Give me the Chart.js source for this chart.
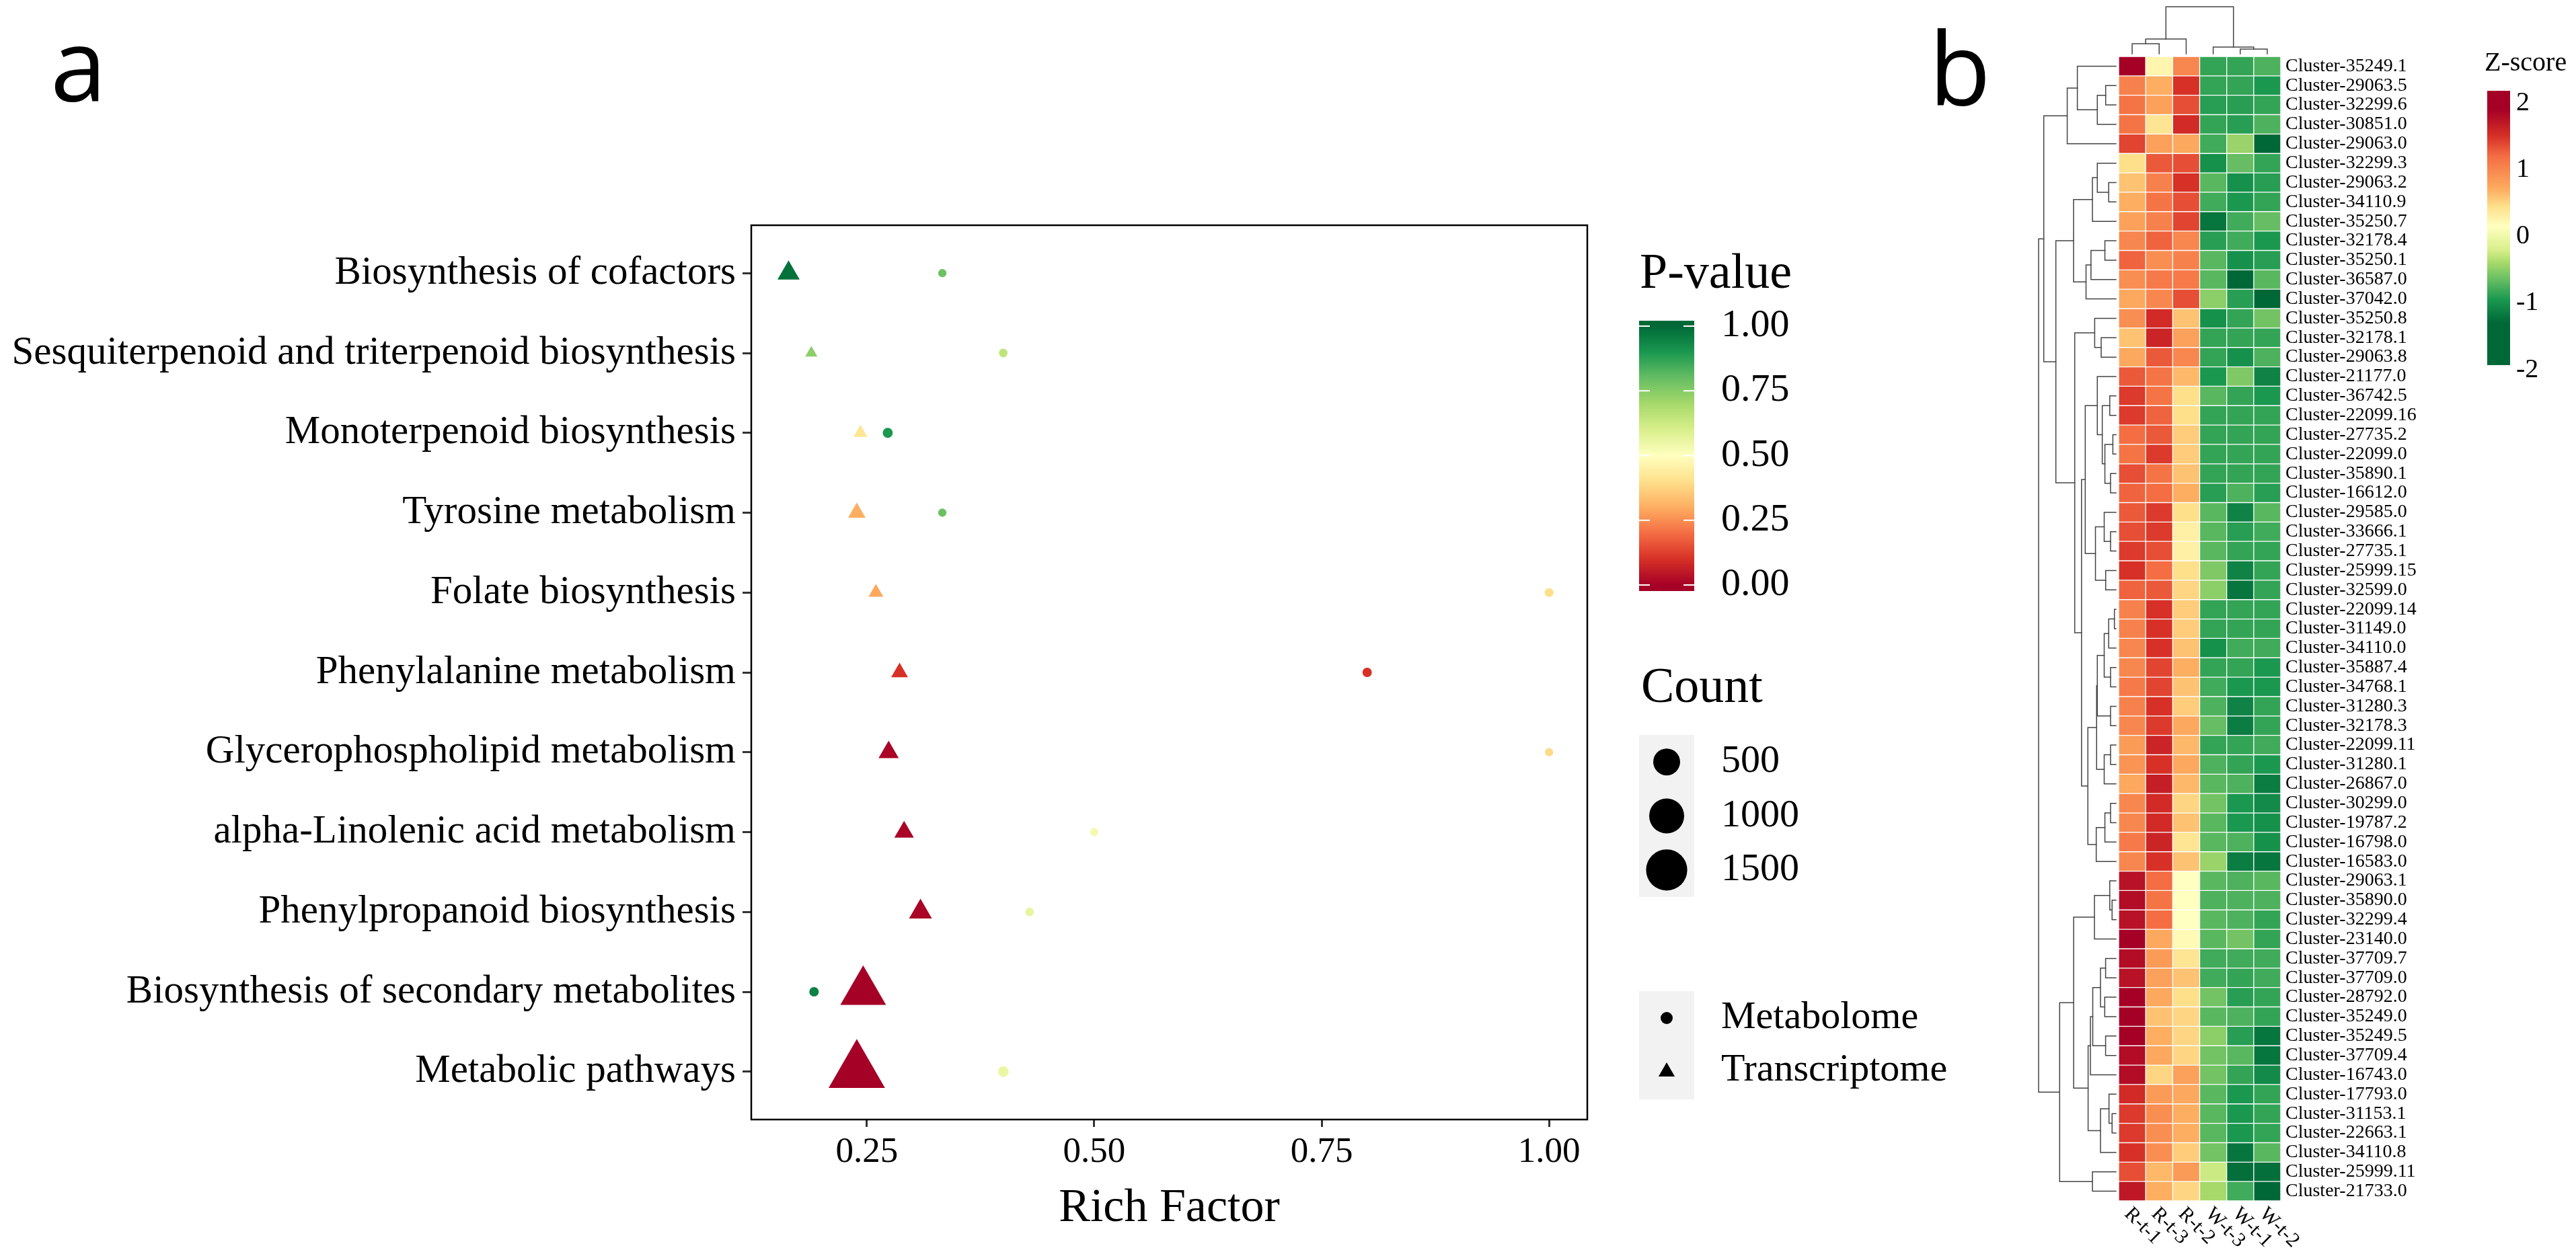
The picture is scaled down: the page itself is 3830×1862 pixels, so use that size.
<!DOCTYPE html>
<html>
<head>
<meta charset="utf-8">
<script src="https://cdn.jsdelivr.net/npm/chart.js@4.4.1/dist/chart.umd.min.js"></script>
<style>
html,body{margin:0;padding:0;background:#fff;}
#wrap{position:relative;width:3830px;height:1862px;background:#fff;overflow:hidden;}
canvas{position:absolute;top:0;}
#ca{left:0;width:2960px;height:1862px;}
#cb{left:2960px;width:870px;height:1862px;}
</style>
</head>
<body>
<div id="wrap">
<canvas id="ca" width="2960" height="1862"></canvas>
<canvas id="cb" width="870" height="1862"></canvas>
</div>
<script>
// ---------------- Panel a data ----------------
const pathways = ["Biosynthesis of cofactors","Sesquiterpenoid and triterpenoid biosynthesis","Monoterpenoid biosynthesis","Tyrosine metabolism","Folate biosynthesis","Phenylalanine metabolism","Glycerophospholipid metabolism","alpha-Linolenic acid metabolism","Phenylpropanoid biosynthesis","Biosynthesis of secondary metabolites","Metabolic pathways"];
const metaRich  = [0.333,0.400,0.273,0.333,1.000,0.800,1.000,0.500,0.429,0.192,0.400];
const metaCount = [2,3,10,2,4,6,2,2,3,7,16];
const metaP     = [0.79,0.65,0.90,0.79,0.40,0.10,0.39,0.53,0.56,0.95,0.55];
const transRich  = [0.164,0.189,0.243,0.239,0.260,0.286,0.274,0.291,0.309,0.246,0.239];
const transCount = [134,7,19,54,25,46,96,84,149,1077,1800];
const transP     = [0.98,0.74,0.42,0.30,0.29,0.10,0.01,0.01,0.01,0.00,0.00];
const richTicks  = [0.25,0.50,0.75,1.00];
const pTicks     = [0,0.25,0.5,0.75,1];
const countBreaks = [500,1000,1500];
const shapeLabels = ["Metabolome","Transcriptome"];

// ---------------- Panel b data ----------------
const samples = ["R-t-1","R-t-3","R-t-2","W-t-3","W-t-1","W-t-2"];
const clusters = ["Cluster-35249.1","Cluster-29063.5","Cluster-32299.6","Cluster-30851.0","Cluster-29063.0","Cluster-32299.3","Cluster-29063.2","Cluster-34110.9","Cluster-35250.7","Cluster-32178.4","Cluster-35250.1","Cluster-36587.0","Cluster-37042.0","Cluster-35250.8","Cluster-32178.1","Cluster-29063.8","Cluster-21177.0","Cluster-36742.5","Cluster-22099.16","Cluster-27735.2","Cluster-22099.0","Cluster-35890.1","Cluster-16612.0","Cluster-29585.0","Cluster-33666.1","Cluster-27735.1","Cluster-25999.15","Cluster-32599.0","Cluster-22099.14","Cluster-31149.0","Cluster-34110.0","Cluster-35887.4","Cluster-34768.1","Cluster-31280.3","Cluster-32178.3","Cluster-22099.11","Cluster-31280.1","Cluster-26867.0","Cluster-30299.0","Cluster-19787.2","Cluster-16798.0","Cluster-16583.0","Cluster-29063.1","Cluster-35890.0","Cluster-32299.4","Cluster-23140.0","Cluster-37709.7","Cluster-37709.0","Cluster-28792.0","Cluster-35249.0","Cluster-35249.5","Cluster-37709.4","Cluster-16743.0","Cluster-17793.0","Cluster-31153.1","Cluster-22663.1","Cluster-34110.8","Cluster-25999.11","Cluster-21733.0"];
const zRt1 = [1.9,1.05,1.15,1.15,1.4,0.45,0.6,0.7,0.8,1.0, 1.25,0.95,0.75,0.95,0.6,0.75,1.3,1.45,1.45,1.2, 1.15,1.35,1.25,1.3,1.35,1.45,1.5,1.25,1.05,1.05, 1.0,1.0,1.1,1.05,1.0,0.85,0.9,0.75,1.0,1.0, 1.1,1.0,1.75,1.8,1.75,2.1,1.8,1.75,1.9,1.95, 1.9,1.8,1.8,1.55,1.45,1.45,1.5,1.35,1.7];
const zRt3 = [0.25,0.7,0.8,0.4,0.8,1.3,1.05,1.15,1.05,1.25, 0.95,1.1,1.0,1.55,1.6,1.3,1.15,1.15,1.25,1.3, 1.45,1.15,1.2,1.45,1.45,1.35,1.2,1.3,1.5,1.5, 1.5,1.4,1.4,1.5,1.45,1.6,1.5,1.65,1.55,1.55, 1.6,1.5,1.2,1.15,1.2,0.75,0.85,0.8,0.75,0.6, 0.7,0.75,0.5,0.85,0.95,0.95,0.95,0.65,0.7];
const zRt2 = [1.0,1.5,1.35,1.55,0.75,1.35,1.5,1.35,1.4,1.0, 1.05,1.1,1.35,0.6,0.8,1.0,0.65,0.45,0.45,0.55, 0.55,0.6,0.7,0.45,0.3,0.3,0.45,0.5,0.55,0.55, 0.6,0.7,0.6,0.55,0.75,0.65,0.75,0.65,0.5,0.6, 0.4,0.6,0.15,0.15,0.15,0.2,0.4,0.6,0.45,0.5, 0.5,0.5,0.8,0.75,0.7,0.7,0.55,0.85,0.5];
const zWt3 = [-0.85,-0.85,-0.9,-0.85,-0.8,-1.0,-0.7,-0.8,-1.2,-0.9, -0.7,-0.7,-0.5,-1.0,-0.85,-0.85,-0.95,-0.7,-0.85,-0.85, -0.85,-0.85,-0.9,-0.7,-0.7,-0.7,-0.55,-0.5,-0.85,-0.85, -1.0,-0.85,-0.8,-0.75,-0.65,-0.85,-0.75,-0.7,-0.6,-0.7, -0.7,-0.45,-0.7,-0.75,-0.7,-0.7,-0.8,-0.8,-0.6,-0.7, -0.5,-0.6,-0.6,-0.7,-0.7,-0.7,-0.6,-0.25,-0.4];
const zWt1 = [-0.85,-0.85,-0.9,-0.9,-0.45,-0.65,-1.0,-0.95,-0.8,-0.8, -1.0,-1.3,-0.9,-0.85,-0.85,-1.0,-0.55,-0.85,-0.85,-0.85, -0.85,-0.85,-0.75,-1.1,-0.9,-0.85,-1.1,-1.2,-0.85,-0.85, -0.8,-0.85,-0.95,-1.1,-1.15,-0.85,-0.85,-0.75,-0.95,-0.95, -0.75,-1.15,-0.75,-0.75,-0.75,-0.6,-0.8,-0.85,-0.9,-0.75, -0.9,-0.7,-0.85,-0.95,-0.95,-0.95,-1.2,-1.25,-0.8];
const zWt2 = [-0.75,-0.95,-0.85,-0.75,-1.4,-0.85,-0.9,-0.85,-0.65,-0.95, -0.9,-0.7,-1.35,-0.6,-0.85,-0.75,-1.1,-0.95,-0.85,-0.85, -0.85,-0.85,-0.9,-0.7,-0.8,-0.85,-0.85,-0.85,-0.85,-0.85, -0.8,-0.95,-0.95,-0.85,-0.85,-0.8,-0.95,-1.15,-1.05,-1.0, -1.0,-1.2,-0.7,-0.75,-0.85,-0.85,-0.8,-0.8,-0.85,-0.85, -1.2,-1.2,-1.05,-0.85,-0.85,-0.85,-0.7,-1.25,-1.45];
const zCols = [zRt1,zRt3,zRt2,zWt3,zWt1,zWt2];
const zTicks = [2,1,0,-1,-2];
// hclust-style merges: negative = leaf (1-based row), positive = earlier merge; third value = height
const rowTree = [[-2,-3,0.133],[1,-4,0.241],[-1,2,0.499],[3,-5,0.63],[-7,-8,0.094],[-6,5,0.241],[6,-9,0.304],[-10,-11,0.143],[8,-12,0.323],[9,-13,0.387],
 [7,10,0.548],[-15,-16,0.191],[-14,12,0.275],[-18,-19,0.08],[-20,-21,0.04],[-22,-23,0.07],[15,16,0.143],[14,17,0.177],[-17,18,0.241],[-25,-26,0.07],
 [-24,20,0.152],[-27,-28,0.133],[21,22,0.265],[19,23,0.397],[-29,-30,0.02],[25,-31,0.094],[-32,-33,0.07],[26,27,0.152],[-34,-35,0.07],[28,29,0.241],
 [-36,-37,0.07],[31,-38,0.152],[30,32,0.25],[-39,-40,0.07],[34,-41,0.143],[35,-42,0.255],[33,36,0.363],[24,37,0.445],[13,38,0.533],[11,39,0.777],
 [4,40,0.933],[-44,-45,0.05],[-43,42,0.08],[43,-46,0.278],[-47,-48,0.134],[-49,-50,0.145],[45,46,0.2],[-51,-52,0.134],[47,48,0.3],[49,-53,0.33],
 [-55,-56,0.05],[-54,51,0.09],[52,-57,0.2],[50,53,0.36],[44,54,0.547],[-58,-59,0.304],[55,56,0.728],[41,57,1.0]];
const colTree = [[-1,-2,0.214],[1,-3,0.314],[-5,-6,0.1],[-4,3,0.143],[2,4,1.0]];

// ---------------- colour / size scales ----------------
const rdylgn = ['#a50026','#d73027','#f46d43','#fdae61','#fee08b','#ffffbf','#d9ef8b','#a6d96a','#66bd63','#1a9850','#006837'];
const zStops = [[-2.2,'#006837'],[-1.3,'#006837'],[-0.95,'#1a9850'],[-0.65,'#66bd63'],[-0.4,'#a6d96a'],[-0.2,'#d9ef8b'],[0.15,'#ffffbf'],[0.45,'#fee08b'],[0.7,'#fdae61'],[1.2,'#f46d43'],[1.5,'#d73027'],[1.9,'#a50026'],[2.3,'#a50026']];
function hexRgb(h){return [parseInt(h.slice(1,3),16),parseInt(h.slice(3,5),16),parseInt(h.slice(5,7),16)];}
function mix(a,b,t){const A=hexRgb(a),B=hexRgb(b);return 'rgb('+A.map((v,i)=>Math.round(v+(B[i]-v)*t)).join(',')+')';}
function pColor(p){const n=rdylgn.length;const t=Math.min(1,Math.max(0,p))*(n-1);const i=Math.min(n-2,Math.floor(t));return mix(rdylgn[i],rdylgn[i+1],t-i);}
function zColor(z){
  if(z<=zStops[0][0]) return zStops[0][1];
  for(let k=1;k<zStops.length;k++){ if(z<=zStops[k][0]){const [z0,c0]=zStops[k-1],[z1,c1]=zStops[k];return mix(c0,c1,(z-z0)/(z1-z0));} }
  return zStops[zStops.length-1][1];
}
const SIZE_MIN=11, SIZE_SPAN=5, COUNT_MAX=1800;
function countDiam(c){return SIZE_MIN*(1+SIZE_SPAN*Math.sqrt(Math.max(0,c-1)/(COUNT_MAX-1)));}
const TRI = 0.733;

Chart.defaults.font.family = '"Liberation Serif", "Times New Roman", serif';
Chart.defaults.color = '#000';

const serif = s => s + 'px "Liberation Serif"';

function triangle(ctx,cx,cy,r){
  ctx.beginPath();
  ctx.moveTo(cx,cy-r);
  ctx.lineTo(cx+r*0.866,cy+r*0.5);
  ctx.lineTo(cx-r*0.866,cy+r*0.5);
  ctx.closePath(); ctx.fill();
}

// ---------------- panel a plugins ----------------
const frameA = {
  id:'frameA',
  afterDatasetsDraw(chart){
    const {ctx, chartArea:a} = chart;
    ctx.save(); ctx.strokeStyle='#000'; ctx.lineWidth=2.5;
    ctx.strokeRect(a.left, a.top, a.right-a.left, a.bottom-a.top);
    ctx.restore();
  }
};
const legendA = {
  id:'legendA',
  afterDraw(chart){
    const ctx = chart.ctx;
    ctx.save();
    ctx.fillStyle='#000'; ctx.textAlign='left'; ctx.textBaseline='alphabetic';
    ctx.font='150px "Open Sans"';
    ctx.fillText('a', 75, 151);
    ctx.fillText('b', 2868, 157);
    // P-value colourbar
    ctx.font=serif(74);
    ctx.fillText('P-value', 2438, 428);
    const bx=2437, bw=82, yTop=485, yBot=870;
    const py = p => yBot + (yTop-yBot)*p;
    for(let y=477;y<879;y++){ ctx.fillStyle=pColor((y+0.5-yBot)/(yTop-yBot)); ctx.fillRect(bx,y,bw,1); }
    ctx.strokeStyle='#fff'; ctx.lineWidth=2;
    pTicks.forEach(v=>{const y=py(v);ctx.beginPath();ctx.moveTo(bx,y);ctx.lineTo(bx+16,y);ctx.moveTo(bx+bw-16,y);ctx.lineTo(bx+bw,y);ctx.stroke();});
    ctx.fillStyle='#000'; ctx.font=serif(58); ctx.textBaseline='middle';
    pTicks.forEach(v=>ctx.fillText(v.toFixed(2), 2559, py(v)));
    // Count legend
    ctx.textBaseline='alphabetic'; ctx.font=serif(74);
    ctx.fillText('Count', 2440, 1044);
    ctx.fillStyle='#f2f2f2'; ctx.fillRect(bx,1093,bw,241);
    const keyH = 241/countBreaks.length;
    countBreaks.forEach((c,k)=>{
      const cy=1093+keyH*(k+0.5);
      ctx.fillStyle='#000'; ctx.beginPath(); ctx.arc(bx+bw/2,cy,countDiam(c)/2,0,Math.PI*2); ctx.fill();
      ctx.font=serif(58); ctx.textBaseline='middle'; ctx.fillText(String(c),2559,cy);
    });
    // shape legend
    ctx.fillStyle='#f2f2f2'; ctx.fillRect(bx,1474,bw,161);
    ctx.fillStyle='#000';
    ctx.beginPath(); ctx.arc(bx+bw/2,1514,9,0,Math.PI*2); ctx.fill();
    triangle(ctx,bx+bw/2,1594,14);
    ctx.font=serif(58); ctx.textBaseline='middle';
    ctx.fillText(shapeLabels[0],2559,1514);
    ctx.fillText(shapeLabels[1],2559,1592);
    ctx.restore();
  }
};

new Chart(document.getElementById('ca'), {
  type:'scatter',
  data:{datasets:[
    {label:shapeLabels[0], data:pathways.map((p,i)=>({x:metaRich[i], y:i})), pointStyle:'circle',
     backgroundColor: c => c.dataIndex==null ? '#000' : pColor(metaP[c.dataIndex]),
     pointRadius: c => c.dataIndex==null ? 3 : countDiam(metaCount[c.dataIndex])/2,
     borderWidth:0, pointBorderWidth:0},
    {label:shapeLabels[1], data:pathways.map((p,i)=>({x:transRich[i], y:i})), pointStyle:'triangle',
     backgroundColor: c => c.dataIndex==null ? '#000' : pColor(transP[c.dataIndex]),
     pointRadius: c => c.dataIndex==null ? 3 : countDiam(transCount[c.dataIndex])*TRI,
     borderWidth:0, pointBorderWidth:0}
  ]},
  options:{
    responsive:false, animation:false, devicePixelRatio:1, events:[],
    layout:{padding:{left:0,right:600,top:335,bottom:0}},
    plugins:{legend:{display:false}, tooltip:{enabled:false}},
    scales:{
      x:{type:'linear', min:0.123, max:1.042,
         afterBuildTicks: s => { s.ticks = richTicks.map(v=>({value:v})); },
         afterFit: s => { s.height = 197; },
         ticks:{callback: v => Number(v).toFixed(2), font:{size:53}, color:'#000', padding:6, maxRotation:0, autoSkip:false},
         grid:{display:true, drawOnChartArea:false, drawTicks:true, tickLength:11, tickColor:'#333', tickWidth:3, lineWidth:3},
         border:{display:false},
         title:{display:true, text:'Rich Factor', font:{size:70}, color:'#000', padding:{top:0,bottom:22}}},
      y:{type:'linear', min:-0.6, max:10.6, reverse:true,
         afterBuildTicks: s => { s.ticks = pathways.map((p,i)=>({value:i})); },
         afterFit: s => { s.width = 1117; },
         ticks:{callback: v => pathways[v], font:{size:59}, color:'#000', padding:10, autoSkip:false},
         grid:{display:true, drawOnChartArea:false, drawTicks:true, tickLength:13, tickColor:'#333', tickWidth:3, lineWidth:3},
         border:{display:false}}
    }
  },
  plugins:[frameA, legendA]
});

// ---------------- panel b plugins ----------------
const heatExtras = {
  id:'heatExtras',
  afterDraw(chart){
    const {ctx, chartArea:a, scales:{x, y}} = chart;
    ctx.save();
    ctx.strokeStyle='#444'; ctx.lineWidth=1.5; ctx.lineCap='square';
    // row dendrogram
    const rx0=a.left-4, rS=115, rn=[];
    const rpos = r => r<0 ? {c:y.getPixelForValue(-r-1), h:0} : rn[r-1];
    rowTree.forEach(([p,q,h])=>{
      const A=rpos(p), B=rpos(q), xh=rx0-h*rS;
      ctx.beginPath();
      ctx.moveTo(rx0-A.h*rS, A.c); ctx.lineTo(xh, A.c); ctx.lineTo(xh, B.c); ctx.lineTo(rx0-B.h*rS, B.c);
      ctx.stroke();
      rn.push({c:(A.c+B.c)/2, h:h});
    });
    // column dendrogram
    const cy0=a.top-4, cS=70, cn=[];
    const cpos = r => r<0 ? {c:x.getPixelForValue(-r-1+0.5), h:0} : cn[r-1];
    colTree.forEach(([p,q,h])=>{
      const A=cpos(p), B=cpos(q), yh=cy0-h*cS;
      ctx.beginPath();
      ctx.moveTo(A.c, cy0-A.h*cS); ctx.lineTo(A.c, yh); ctx.lineTo(B.c, yh); ctx.lineTo(B.c, cy0-B.h*cS);
      ctx.stroke();
      cn.push({c:(A.c+B.c)/2, h:h});
    });
    // column labels
    ctx.fillStyle='#000'; ctx.font=serif(30); ctx.textAlign='left'; ctx.textBaseline='middle';
    samples.forEach((s,j)=>{
      ctx.save();
      ctx.translate(x.getPixelForValue(j+0.5)-7, a.bottom+15);
      ctx.rotate(Math.PI/4);
      ctx.fillText(s,0,0);
      ctx.restore();
    });
    // Z-score legend
    const lx=738, lw=34, z0y=351.5, zUnit=99.25;
    const zy = z => z0y - z*zUnit;
    for(let yy=135; yy<543; yy++){ ctx.fillStyle=zColor((z0y-(yy+0.5))/zUnit); ctx.fillRect(lx,yy,lw,1); }
    ctx.fillStyle='#000'; ctx.textBaseline='alphabetic'; ctx.font=serif(40);
    ctx.fillText('Z-score', 734, 105);
    ctx.textBaseline='middle'; ctx.font=serif(40);
    zTicks.forEach(z=>ctx.fillText(String(z), 781, zy(z)));
    ctx.restore();
  }
};

new Chart(document.getElementById('cb'), {
  type:'bar',
  data:{labels:clusters, datasets:samples.map((s,j)=>({
    label:s,
    data:clusters.map(()=>[j, j+1]),
    backgroundColor: c => c.dataIndex==null ? '#ccc' : zColor(zCols[j][c.dataIndex]),
    borderColor:'rgba(255,255,255,0.8)', borderWidth:1, borderSkipped:false,
    barPercentage:1, categoryPercentage:1, grouped:false
  }))},
  options:{
    indexAxis:'y', responsive:false, animation:false, devicePixelRatio:1, events:[],
    layout:{padding:{left:190,right:0,top:84,bottom:76}},
    plugins:{legend:{display:false}, tooltip:{enabled:false}},
    scales:{
      x:{type:'linear', min:0, max:6, display:false},
      y:{type:'category', position:'right', afterFit: s => { s.width = 439; },
         ticks:{font:{size:28}, color:'#000', padding:7, autoSkip:false},
         grid:{display:false, drawTicks:false}, border:{display:false}}
    }
  },
  plugins:[heatExtras]
});
</script>
</body>
</html>
